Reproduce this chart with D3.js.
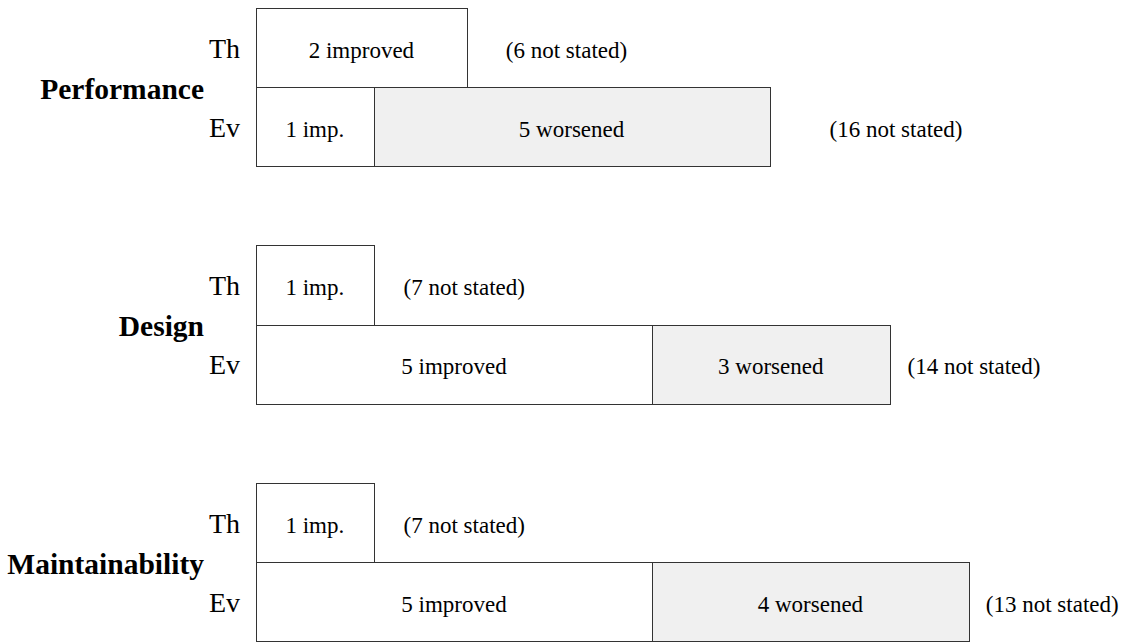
<!DOCTYPE html>
<html>
<head>
<meta charset="utf-8">
<script src="https://cdn.jsdelivr.net/npm/d3@7"></script>
<style>
  html, body { margin: 0; padding: 0; background: #fff; }
  svg { display: block; }
</style>
</head>
<body>
<svg id="chart" width="1148" height="642"></svg>
<script>
// ---- data ----
const categories = ["Performance", "Design", "Maintainability"];
const rowKinds = ["Th", "Ev"];
const thImproved = [2, 1, 1];
const thWorsened = [0, 0, 0];
const thNotStated = [6, 7, 7];
const evImproved = [1, 5, 5];
const evWorsened = [5, 3, 4];
const evNotStated = [16, 14, 13];

// ---- layout (not data) ----
const FONT = "Liberation Serif";
const barLeft = 256;
const unitPx = 79.2;
const labelFont = 23;
const notStatedGap = [[39, 60], [30, 18], [30, 17]];

const svg = d3.select("#chart");

const rowIds = [];
categories.forEach((c, i) => {
  rowIds.push(c + "|Th", c + "|Ev");
  if (i < categories.length - 1) rowIds.push(c + "|gap");
});
const y = d3.scaleBand().domain(rowIds).range([8, 641.3]);
const x = d3.scaleLinear().domain([0, 10]).range([barLeft, barLeft + unitPx * 10]);

function txt(sel) { return sel.append("text").style("font-family", FONT).attr("fill", "#000"); }

const meas = txt(svg).style("font-size", labelFont + "px").attr("x", -1000).attr("y", -1000);
function textW(s) { meas.text(s); return meas.node().getComputedTextLength(); }

const rows = [];
categories.forEach((c, i) => {
  rows.push({ cat: c, ci: i, kind: "Th", imp: thImproved[i], wor: thWorsened[i], ns: thNotStated[i] });
  rows.push({ cat: c, ci: i, kind: "Ev", imp: evImproved[i], wor: evWorsened[i], ns: evNotStated[i] });
});

rows.forEach(r => {
  const y0 = y(r.cat + "|" + r.kind);
  const h = y.bandwidth();
  const g = svg.append("g");
  const segs = [];
  if (r.imp > 0) segs.push({ label: r.imp === 1 ? r.imp + " imp." : r.imp + " improved", v: r.imp, fill: "#ffffff" });
  if (r.wor > 0) segs.push({ label: r.wor + " worsened", v: r.wor, fill: "#f0f0f0" });
  let cx = x(0);
  segs.forEach(s => {
    const w = Math.max(x(s.v) - x(0), 2 * textW(s.label));
    g.append("rect")
      .attr("x", Math.round(cx) + 0.5).attr("y", Math.round(y0) + 0.5)
      .attr("width", Math.round(w)).attr("height", Math.round(y0 + h) - Math.round(y0))
      .attr("fill", s.fill).attr("stroke", "#333").attr("stroke-width", 1);
    txt(g).attr("x", cx + w / 2).attr("y", y0 + h / 2)
      .attr("dy", "0.44em").attr("text-anchor", "middle")
      .style("font-size", labelFont + "px").text(s.label);
    cx += w;
  });
  txt(g).attr("x", cx + notStatedGap[r.ci][r.kind === "Th" ? 0 : 1])
    .attr("y", y0 + h / 2).attr("dy", "0.44em")
    .style("font-size", labelFont + "px").text("(" + r.ns + " not stated)");
  txt(g).attr("x", barLeft - 16).attr("y", y0 + h / 2).attr("dy", "0.36em")
    .attr("text-anchor", "end").style("font-size", "28px").text(r.kind);
});

categories.forEach(c => {
  const yb = y(c + "|Ev");
  txt(svg).attr("x", 204).attr("y", yb).attr("dy", "0.4em")
    .attr("text-anchor", "end").style("font-size", "29.5px").style("font-weight", "bold")
    .text(c);
});
meas.remove();
</script>
</body>
</html>
